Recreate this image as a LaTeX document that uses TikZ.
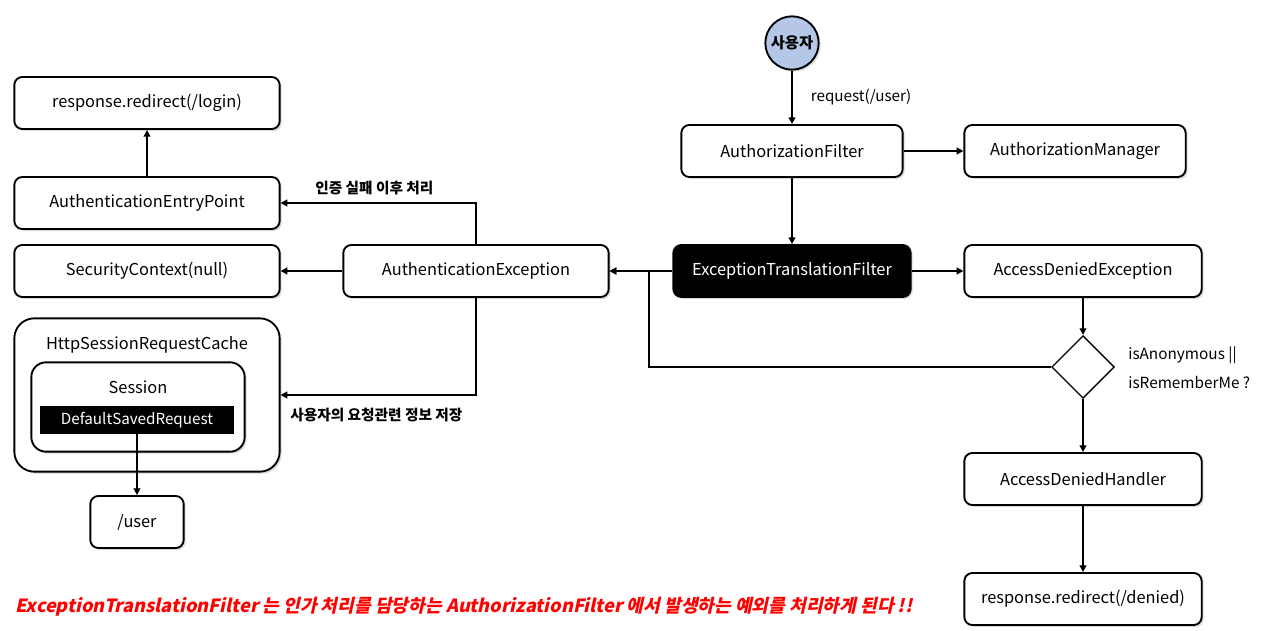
\documentclass[tikz,border=0pt]{standalone}
\usepackage{fontspec}
\setmainfont{Noto Sans CJK KR}
\newfontfamily\notafont{Noto Sans CJK KR}[FakeSlant=0.22,BoldFeatures={FakeSlant=0.22}]
\usepackage{xcolor}
\usetikzlibrary{shapes.geometric,arrows.meta,positioning,shadows}
\definecolor{azulusr}{HTML}{B4C7E7}
\definecolor{rojonota}{HTML}{FF0000}
\tikzset{
  caja/.style={rectangle, draw, line width=1.4pt, rounded corners=6pt, fill=white,
               minimum height=39pt, minimum width=178pt, align=center, font=\fontsize{12.3}{14}\selectfont,
               drop shadow={shadow xshift=1.5pt, shadow yshift=-1.5pt, opacity=0.3}},
  cajanegra/.style={caja, fill=black, text=white},
  dec/.style={diamond, draw, line width=1pt, aspect=1, minimum size=47pt, inner sep=0pt},
  usuario/.style={circle, draw, line width=1.4pt, fill=azulusr, minimum size=40pt, inner sep=0pt,
                  font=\fontsize{11.5}{13}\selectfont\bfseries,
                  drop shadow={shadow xshift=1.5pt, shadow yshift=-1.5pt, opacity=0.3}},
  flecha/.style={-{Triangle[length=5pt,width=5pt]}, line width=1.3pt},
  etiq/.style={font=\fontsize{11.4}{13}\selectfont, inner sep=1.5pt},
  etiqkr/.style={etiq, font=\fontsize{11}{13}\selectfont\bfseries}
}

\begin{document}
\begin{tikzpicture}[x=0.75pt,y=-0.75pt]
\useasboundingbox (0,0) rectangle (1280,631);

% lado derecho
\node[usuario] (usr) at (792,43) {사용자};
\node[caja,minimum width=166pt] (azf) at (792,151) {AuthorizationFilter};
\node[caja,minimum width=166pt] (azm) at (1075,151) {AuthorizationManager};
\node[cajanegra] (etf) at (792,271) {ExceptionTranslationFilter};
\node[caja] (ade) at (1083,271) {AccessDeniedException};
\node[dec] (dec) at (1083,367) {};
\node[etiq,anchor=west,align=left,font=\fontsize{11.5}{22}\selectfont] (cond) at (1126,368) {isAnonymous ||\\ isRememberMe ?};
\node[caja] (adh) at (1083,479) {AccessDeniedHandler};
\node[caja] (denied) at (1083,599) {response.redirect(/denied)};

% lado izquierdo
\node[caja,minimum width=199pt] (authex) at (476,271) {AuthenticationException};
\node[caja,minimum width=199pt] (login) at (147,103) {response.redirect(/login)};
\node[caja,minimum width=199pt] (aep) at (147,203) {AuthenticationEntryPoint};
\node[caja,minimum width=199pt] (secctx) at (147,271) {SecurityContext(null)};
\node[caja,minimum width=199pt,minimum height=115pt,rounded corners=15pt] (cache) at (147,395) {};
\node[etiq,font=\fontsize{12.3}{14}\selectfont] (cachelbl) at (147,345) {HttpSessionRequestCache};
\node[caja,minimum width=160pt,minimum height=67pt,rounded corners=11pt] (sesion) at (138,407) {};
\node[etiq,font=\fontsize{12.3}{14}\selectfont] (sesionlbl) at (138,387) {Session};
\node[rectangle,fill=black,text=white,minimum width=146pt,minimum height=21pt,inner sep=0pt,
      font=\fontsize{11.4}{13}\selectfont] (dsr) at (137,420) {DefaultSavedRequest};
\node[caja,minimum width=70pt] (upath) at (137,522) {/user};

\coordinate (unir) at (649,271);

\draw[flecha] (usr) -- node[etiq,right=12pt]{request(/user)} (azf);
\draw[flecha] (azf) -- (azm);
\draw[flecha] (azf) -- (etf);
\draw[flecha] (etf) -- (ade);
\draw[flecha] (etf) -- (authex);
\draw[flecha] (ade) -- (dec);
\draw[flecha] (dec) -- (adh);
\draw[flecha] (adh) -- (denied);
\draw[flecha] (dec.west) -| (unir) -- (authex.east);
\draw[flecha] (authex.north) |- node[etiqkr,pos=0.76,above=4pt]{인증 실패 이후 처리} (aep.east);
\draw[flecha] (authex) -- (secctx);
\draw[flecha] (authex.south) |- node[etiqkr,pos=0.755,below=8pt]{사용자의 요청관련 정보 저장} (cache.east);
\draw[flecha] (aep) -- (login);
\draw[flecha] (dsr) -- (upath);

\node[anchor=west,text=rojonota,inner sep=0pt,font=\notafont\fontsize{13.6}{16}\selectfont\bfseries] (nota) at (15,607)
  {ExceptionTranslationFilter 는 인가 처리를 담당하는 AuthorizationFilter 에서 발생하는 예외를 처리하게 된다 !!};
\end{tikzpicture}
\end{document}
